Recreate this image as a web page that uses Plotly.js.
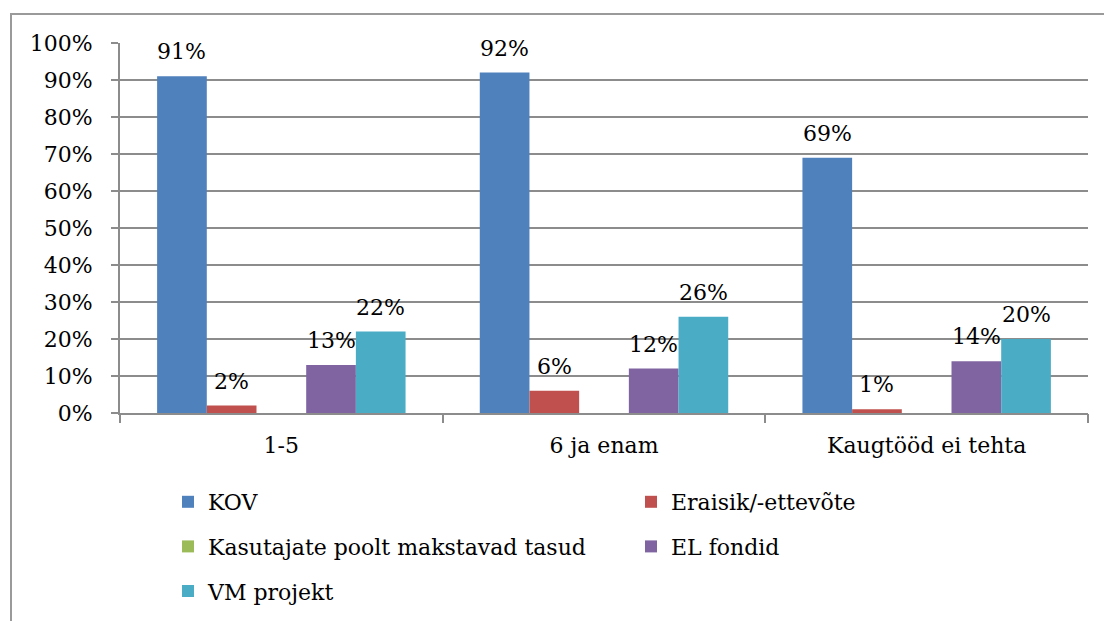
<!DOCTYPE html>
<html>
<head>
<meta charset="utf-8">
<script src="https://cdn.plot.ly/plotly-3.0.1.min.js"></script>
<style>
html,body{margin:0;padding:0;background:#fff;}
#chart{width:1104px;height:621px;}
</style>
</head>
<body>
<div id="chart"></div>
<script>
// Data
var categories = ['1-5', '6 ja enam', 'Kaugtööd ei tehta'];
var seriesNames = ['KOV', 'Eraisik/-ettevõte', 'Kasutajate poolt makstavad tasud', 'EL fondid', 'VM projekt'];
var kov = [91, 92, 69];
var eraisik = [2, 6, 1];
var kasutajate = [0, 0, 0];
var elFondid = [13, 12, 14];
var vmProjekt = [22, 26, 20];
var yTickVals = [0, 10, 20, 30, 40, 50, 60, 70, 80, 90, 100];

var seriesValues = [kov, eraisik, kasutajate, elFondid, vmProjekt];
var colors = ['#4F81BD', '#C0504D', '#9BBB59', '#8064A2', '#4BACC6'];
var legendOf = ['legend', 'legend2', 'legend', 'legend2', 'legend'];

var FONT = 'DejaVu Serif';
var GRID = '#8c8c8c';
var bargap = 0.23;
var nS = seriesNames.length;
var bw = (1 - bargap) / nS;

var xIdx = categories.map(function (c, i) { return i; });

var traces = seriesNames.map(function (name, j) {
  return {
    type: 'bar',
    name: name,
    x: xIdx,
    y: seriesValues[j],
    marker: {color: colors[j], line: {width: 0}},
    legend: legendOf[j],
    legendgroup: 'g' + j,
    hoverinfo: 'skip'
  };
});

var annotations = [];
seriesValues.forEach(function (vals, j) {
  vals.forEach(function (v, i) {
    if (v === 0) return;
    annotations.push({
      x: i + (j - (nS - 1) / 2) * bw,
      y: v,
      xref: 'x', yref: 'y',
      text: v + '%',
      showarrow: false,
      yanchor: 'bottom',
      xanchor: 'center',
      yshift: 10,
      font: {family: FONT, size: 22, color: '#000'}
    });
  });
});

var L = 120, R = 16, T = 43, B = 208;
var W = 1104 - L - R, H = 621 - T - B;
function px2x(p) { return (p - L) / W; }
function px2y(p) { return (621 - B - p) / H; }

var layout = {
  width: 1104,
  height: 621,
  margin: {l: L, r: R, t: T, b: B, pad: 0, autoexpand: false},
  paper_bgcolor: '#fff',
  plot_bgcolor: '#fff',
  barmode: 'group',
  bargap: bargap,
  bargroupgap: 0,
  font: {family: FONT, size: 22, color: '#000'},
  xaxis: {
    type: 'linear',
    range: [-0.5, categories.length - 0.5],
    tickmode: 'array',
    tickvals: xIdx,
    ticktext: categories,
    showgrid: false,
    zeroline: false,
    showline: true,
    linecolor: GRID,
    linewidth: 2,
    ticks: '',
    ticklabelstandoff: 12,
    tickfont: {family: FONT, size: 22, color: '#000'},
    fixedrange: true
  },
  yaxis: {
    range: [0, 100],
    tickmode: 'array',
    tickvals: yTickVals,
    ticktext: yTickVals.map(function (v) { return v + '%'; }),
    showgrid: true,
    gridcolor: GRID,
    gridwidth: 2,
    zeroline: false,
    showline: true,
    linecolor: GRID,
    linewidth: 2,
    ticks: 'outside',
    ticklen: 7,
    tickwidth: 2,
    tickcolor: GRID,
    ticklabelstandoff: 14,
    tickfont: {family: FONT, size: 22, color: '#000'},
    fixedrange: true
  },
  // category boundary ticks on x axis drawn as a second (overlaying) axis
  xaxis2: {
    overlaying: 'x',
    range: [-0.5, categories.length - 0.5],
    tickmode: 'array',
    tickvals: [-0.5].concat(xIdx.map(function (i) { return i + 0.5; })),
    showticklabels: false,
    ticks: 'outside',
    ticklen: 9,
    tickwidth: 2,
    tickcolor: GRID,
    showgrid: false,
    zeroline: false,
    showline: false,
    side: 'bottom',
    fixedrange: true
  },
  legend: {
    x: px2x(168), xanchor: 'left',
    y: px2y(481), yanchor: 'top',
    orientation: 'v',
    traceorder: 'grouped',
    tracegroupgap: 13,
    bgcolor: 'rgba(0,0,0,0)',
    borderwidth: 0,
    font: {family: FONT, size: 22, color: '#000'}
  },
  legend2: {
    x: px2x(631), xanchor: 'left',
    y: px2y(481), yanchor: 'top',
    orientation: 'v',
    traceorder: 'grouped',
    tracegroupgap: 13,
    bgcolor: 'rgba(0,0,0,0)',
    borderwidth: 0,
    font: {family: FONT, size: 22, color: '#000'}
  },
  annotations: annotations,
  shapes: [{
    type: 'rect',
    xref: 'paper', yref: 'paper',
    x0: px2x(11), x1: px2x(1130),
    y0: px2y(660), y1: px2y(14),
    line: {color: '#9a9a9a', width: 2},
    fillcolor: 'rgba(0,0,0,0)',
    layer: 'below'
  }]
};

// dummy trace to activate xaxis2 for boundary ticks
traces.push({
  type: 'scatter', x: [0], y: [0], xaxis: 'x2', yaxis: 'y',
  mode: 'markers', marker: {opacity: 0}, showlegend: false, hoverinfo: 'skip'
});

Plotly.newPlot('chart', traces, layout, {displayModeBar: false, staticPlot: true});
</script>
</body>
</html>
